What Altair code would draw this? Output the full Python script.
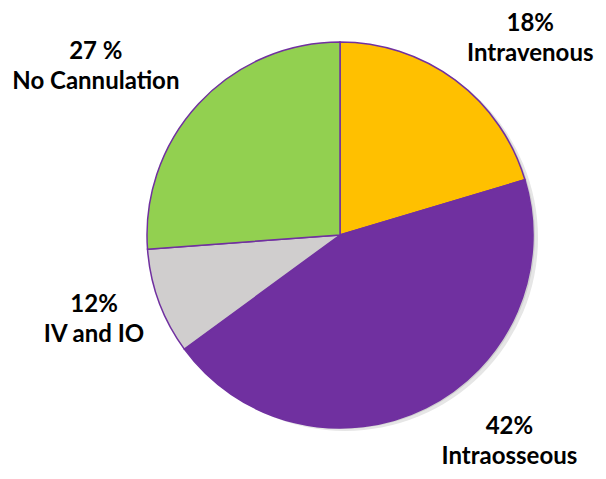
import altair as alt
import pandas as pd

categories = ["Intravenous", "Intraosseous", "IV and IO", "No Cannulation"]
slice_values = [20.4, 44.6, 8.9, 26.2]
label_texts = ["18%\nIntravenous", "42%\nIntraosseous", "12%\nIV and IO", "27 %\nNo Cannulation"]
colors = ["#FFC000", "#7030A0", "#D0CECE", "#92D050"]

df = pd.DataFrame({
    "category": categories,
    "value": slice_values,
    "label": label_texts,
    "order": list(range(len(categories))),
})

CX, CY, R = 332, 227, 193
FONT = "Lato"
LH = 30

shadow = alt.Chart(pd.DataFrame({"s": [1]})).mark_arc(
    theta=0, theta2=6.2832, outerRadius=R, color="#e6e6e6"
).encode(x=alt.value(CX + 5), y=alt.value(CY + 3))

shadow2 = alt.Chart(pd.DataFrame({"s": [1]})).mark_arc(
    theta=0, theta2=6.2832, outerRadius=R, color="#cfcfcf"
).encode(x=alt.value(CX + 2), y=alt.value(CY + 1))

arcs = alt.Chart(df).mark_arc(
    outerRadius=R, stroke="#7030A0", strokeWidth=1.5
).encode(
    theta=alt.Theta("value:Q", stack=True),
    order=alt.Order("order:Q"),
    color=alt.Color("category:N", scale=alt.Scale(domain=categories, range=colors), legend=None),
    x=alt.value(CX),
    y=alt.value(CY),
)

base_txt = alt.Chart(df).transform_joinaggregate(
    total="sum(value)"
).transform_window(
    cum="sum(value)", sort=[alt.SortField("order")]
).transform_calculate(
    mid="(datum.cum - datum.value / 2) / datum.total * 100"
)

label_layout = [
    ("Intravenous", 275, 26, 25),
    ("Intraosseous", 275, 47, -39),
    ("IV and IO", 260, -2, -5),
    ("No Cannulation", 295, -28, 33),
]

texts = []
for cat, rad, ddx, ddy in label_layout:
    t = base_txt.transform_filter(alt.datum.category == cat).mark_text(
        radius=rad, dx=ddx, dy=ddy - LH / 2, font=FONT, fontSize=24, fontWeight="bold",
        color="#000000", lineBreak="\n", lineHeight=LH, align="center", baseline="middle"
    ).encode(
        theta=alt.Theta("mid:Q", scale=alt.Scale(domain=[0, 100], range=[0, 6.283185])),
        text="label:N",
        x=alt.value(CX),
        y=alt.value(CY),
    )
    texts.append(t)

chart = alt.layer(shadow, shadow2, arcs, *texts).properties(
    width=590, height=463, padding=0,
    autosize=alt.AutoSizeParams(type="fit", contains="padding"),
).configure_view(stroke=None).resolve_scale(theta="independent")

chart.save("out.html", embed_options={"renderer": "svg", "actions": False})
